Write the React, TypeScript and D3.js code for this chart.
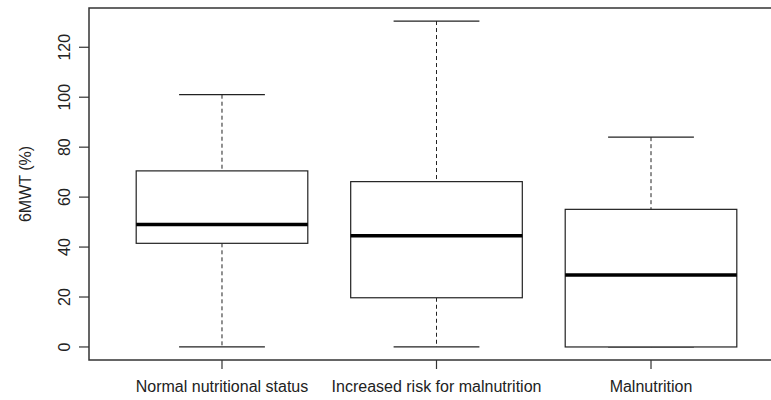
import * as d3 from 'd3'

// five-number summaries
const groups = ['Normal nutritional status', 'Increased risk for malnutrition', 'Malnutrition']
const lowWhisker = [0, 0, 0]
const q1 = [41.5, 19.7, 0]
const median = [49, 44.5, 28.8]
const q3 = [70.5, 66.2, 55.1]
const highWhisker = [101, 130.5, 84]
const yTicks = [0, 20, 40, 60, 80, 100, 120]
const yLabel = '6MWT (%)'

const W = 771
const H = 400

const App = () => {
  // R-style 4% padding around the data range
  const yMin = d3.min(lowWhisker)
  const yMax = d3.max(highWhisker)
  const pad = (yMax - yMin) * 0.04
  const y = d3.scaleLinear().domain([yMin - pad, yMax + pad]).range([360, 8])
  const x = d3.scaleLinear().domain([0.38, groups.length + 0.62]).range([89, 784])

  const font = '"Liberation Sans", Arial, sans-serif'
  const frameColor = '#333'
  const fs = 16

  return (
    <svg width={W} height={H} style={{ position: 'absolute', left: 0, top: 0, background: '#fff' }}>
      {/* plot frame, right side runs off the image */}
      <rect
        x={x.range()[0]}
        y={y.range()[1]}
        width={x.range()[1] - x.range()[0]}
        height={y.range()[0] - y.range()[1]}
        fill="none"
        stroke={frameColor}
        strokeWidth={1.5}
      />

      {/* y axis */}
      {yTicks.map((t) => (
        <g key={t}>
          <line x1={x.range()[0] - 10} x2={x.range()[0]} y1={y(t)} y2={y(t)} stroke={frameColor} strokeWidth={1.2} />
          <text
            transform={`translate(70,${y(t)}) rotate(-90)`}
            textAnchor="middle"
            fontFamily={font}
            fontSize={fs}
            fill="#222"
          >
            {t}
          </text>
        </g>
      ))}
      <text
        transform={`translate(31,${(y.range()[0] + y.range()[1]) / 2}) rotate(-90)`}
        textAnchor="middle"
        fontFamily={font}
        fontSize={fs}
        fill="#222"
      >
        {yLabel}
      </text>

      {/* x axis */}
      {groups.map((g, i) => (
        <g key={g}>
          <line x1={x(i + 1)} x2={x(i + 1)} y1={y.range()[0]} y2={y.range()[0] + 9} stroke={frameColor} strokeWidth={1.2} />
          <text x={x(i + 1)} y={392} textAnchor="middle" fontFamily={font} fontSize={fs} fill="#222">
            {g}
          </text>
        </g>
      ))}

      {/* boxes */}
      {groups.map((g, i) => {
        const c = x(i + 1)
        const bw = x(1.4) - x(1)
        const cw = x(1.2) - x(1)
        return (
          <g key={'box' + i} stroke="#222" fill="none">
            <line x1={c} x2={c} y1={y(highWhisker[i])} y2={y(q3[i])} strokeDasharray="4,3" strokeWidth={1} />
            <line x1={c} x2={c} y1={y(q1[i])} y2={y(lowWhisker[i])} strokeDasharray="4,3" strokeWidth={1} />
            <line x1={c - cw} x2={c + cw} y1={y(highWhisker[i])} y2={y(highWhisker[i])} strokeWidth={1.2} />
            <line x1={c - cw} x2={c + cw} y1={y(lowWhisker[i])} y2={y(lowWhisker[i])} strokeWidth={1.2} />
            <rect x={c - bw} y={y(q3[i])} width={bw * 2} height={y(q1[i]) - y(q3[i])} fill="#fff" strokeWidth={1.2} />
            <line x1={c - bw} x2={c + bw} y1={y(median[i])} y2={y(median[i])} stroke="#000" strokeWidth={3.5} />
          </g>
        )
      })}
    </svg>
  )
}

export default App
